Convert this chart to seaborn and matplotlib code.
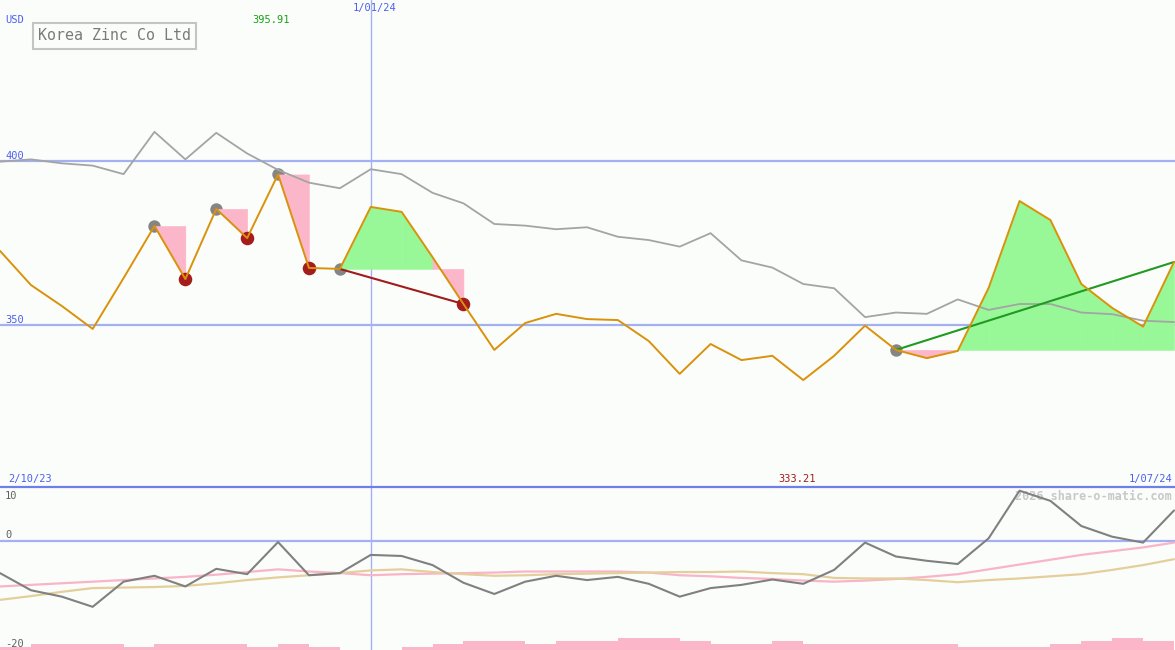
import numpy as np
import pandas as pd
import matplotlib
matplotlib.use("Agg")
import matplotlib.pyplot as plt
import seaborn as sns

# =====================================================
# Data (weekly, 2/10/23 .. 1/07/24)
# =====================================================

price = [372.6, 362.2, 355.8, 348.8, 364.3, 380.2, 364.0, 385.4, 376.5, 395.91,
         367.4, 367.1, 386.0, 384.5, 370.7, 356.4, 342.4, 350.6, 353.4, 351.8,
         351.5, 345.1, 335.1, 344.2, 339.3, 340.6, 333.21, 340.6, 349.8, 342.4,
         339.9, 342.1, 361.3, 387.8, 382.0, 362.5, 355.2, 349.5, 369.2]

avg_line = [399.8, 400.5, 399.3, 398.6, 396.0, 408.9, 400.5, 408.6, 402.3, 397.3,
            393.4, 391.7, 397.5, 396.0, 390.3, 387.1, 380.8, 380.3, 379.2, 379.8,
            376.9, 375.9, 373.9, 378.0, 369.7, 367.5, 362.5, 361.2, 352.4, 353.8,
            353.4, 357.8, 354.6, 356.4, 356.4, 353.8, 353.3, 351.3, 350.9]

momentum = [-6.0, -9.2, -10.4, -12.3, -7.6, -6.5, -8.5, -5.2, -6.2, -0.2,
            -6.4, -6.0, -2.6, -2.8, -4.5, -7.8, -9.9, -7.6, -6.5, -7.3,
            -6.7, -8.0, -10.4, -8.8, -8.2, -7.2, -8.0, -5.4, -0.3, -2.9,
            -3.7, -4.3, 0.5, 9.4, 7.5, 2.8, 0.8, -0.3, 5.7]

mom_fast = [-8.5, -8.2, -7.9, -7.6, -7.3, -7.0, -6.7, -6.3, -5.8, -5.3,
            -5.7, -6.0, -6.4, -6.2, -6.1, -6.0, -5.9, -5.7, -5.7, -5.7,
            -5.7, -5.9, -6.4, -6.6, -6.9, -7.1, -7.4, -7.6, -7.4, -7.1,
            -6.7, -6.2, -5.3, -4.4, -3.5, -2.6, -1.9, -1.2, -0.3]

mom_slow = [-11.0, -10.3, -9.5, -8.8, -8.7, -8.6, -8.4, -7.9, -7.3, -6.8,
            -6.4, -6.0, -5.5, -5.3, -5.8, -6.2, -6.5, -6.4, -6.2, -6.1,
            -6.0, -5.9, -5.8, -5.8, -5.7, -6.0, -6.2, -6.9, -7.0, -7.0,
            -7.3, -7.7, -7.3, -7.0, -6.6, -6.2, -5.4, -4.5, -3.4]

# volume level for each week-to-week interval
volume = [1, 2, 2, 2, 1, 2, 2, 2, 1, 2, 1, 0, 0, 1, 2, 3, 3, 2, 3,
          3, 4, 4, 3, 2, 2, 3, 2, 2, 2, 2, 2, 1, 1, 1, 2, 3, 4, 3]

buy_idx = [5, 7, 9, 11, 29]
sell_idx = [6, 8, 10, 15]

# signal ranges: (start, end) -> fill vs start level
signals = [(5, 6), (7, 8), (9, 10), (11, 15), (29, 38)]
trend_lines = [(11, 15, "#a01c1c"), (29, 38, "#229922")]

date_labels = ["2/10/23", "1/01/24", "1/07/24"]
date_idx = [0, 12, 38]

price_levels = [400, 350]

# =====================================================
# Styles
# =====================================================

BG = "#fbfdfb"
GRID_BLUE = "#a3b1f2"
TEXT_BLUE = "#4d5ff0"
PINK = "#fbb6ca"
GREEN = "#98f898"
MONO = ["DejaVu Sans Mono"]

sns.set_style("white")
plt.rcParams["font.family"] = MONO

weeks = np.arange(len(price))
df = pd.DataFrame({
    "week": weeks,
    "price": price,
    "avg": avg_line,
    "mom": momentum,
    "fast": mom_fast,
    "slow": mom_slow,
})

fig = plt.figure(figsize=(11.75, 6.5), dpi=100, facecolor=BG)

split = 163 / 650
ax = fig.add_axes([0, split, 1, 1 - split])
ax_low = fig.add_axes([0, 0, 1, split])

xmax = (len(price) - 1) * 1175 / 1174

for a in (ax, ax_low):
    a.set_facecolor(BG)
    a.set_xlim(0, xmax)
    a.set_xticks([])
    a.set_yticks([])
    for s in a.spines.values():
        s.set_visible(False)

ax.set_ylim(300.6, 449.1)
ax_low.set_ylim(-20.37, 10.09)

# =====================================================
# Main panel
# =====================================================

for lvl in price_levels:
    ax.axhline(lvl, color=GRID_BLUE, lw=1.6, zorder=1)
    ax.annotate(str(lvl), xy=(0, lvl), xycoords=("axes fraction", "data"),
                xytext=(5, 0), textcoords="offset pixels",
                va="bottom", ha="left", fontsize=7.5, color=TEXT_BLUE)

ax.axvline(date_idx[1], color=GRID_BLUE, lw=1.0, zorder=1)
ax_low.axvline(date_idx[1], color=GRID_BLUE, lw=1.0, zorder=1)

sns.scatterplot(x=weeks[buy_idx], y=np.array(price)[buy_idx], ax=ax,
                color="#858585", s=80, linewidth=0, zorder=1.5)

# fills relative to the signal start level
for start, end in signals:
    level = price[start]
    for j in range(start, end):
        col = GREEN if price[j + 1] > level else PINK
        ax.fill_between(weeks[j:j + 2], price[j:j + 2], level,
                        facecolor=col, edgecolor=col, lw=0.4, zorder=2)

sns.lineplot(data=df, x="week", y="avg", ax=ax, color="#a4a4a4",
             lw=1.3, estimator=None, zorder=3)

sns.scatterplot(x=weeks[sell_idx], y=np.array(price)[sell_idx], ax=ax,
                color="#a51c1c", s=95, linewidth=0, zorder=4)

for start, end, col in trend_lines:
    sns.lineplot(x=[weeks[start], weeks[end]], y=[price[start], price[end]],
                 ax=ax, color=col, lw=1.5, zorder=4)

sns.lineplot(data=df, x="week", y="price", ax=ax, color="#d9920a",
             lw=1.4, estimator=None, zorder=5)

ax.set_xlabel("")
ax.set_ylabel("")

# high / low labels
hi_i = int(np.argmax(price))
lo_i = int(np.argmin(price))
ax.annotate(f"{price[hi_i]:.2f}", xy=(weeks[hi_i], 1),
            xycoords=("data", "axes fraction"), xytext=(-7, -20),
            textcoords="offset pixels", ha="center", va="center",
            fontsize=7.5, color="#16a016")
ax.annotate(f"{price[lo_i]:.2f}", xy=(weeks[lo_i], 0),
            xycoords=("data", "axes fraction"), xytext=(-6, 8),
            textcoords="offset pixels", ha="center", va="center",
            fontsize=7.5, color="#a01c1c")

# date labels
ax.annotate(date_labels[0], xy=(weeks[date_idx[0]], 0),
            xycoords=("data", "axes fraction"), xytext=(8, 8),
            textcoords="offset pixels", ha="left", va="center",
            fontsize=7.5, color=TEXT_BLUE)
ax.annotate(date_labels[1], xy=(weeks[date_idx[1]], 1),
            xycoords=("data", "axes fraction"), xytext=(4, -8),
            textcoords="offset pixels", ha="center", va="center",
            fontsize=7.5, color=TEXT_BLUE)
ax.annotate(date_labels[2], xy=(1, 0), xycoords="axes fraction",
            xytext=(-3, 8), textcoords="offset pixels", ha="right",
            va="center", fontsize=7.5, color=TEXT_BLUE)

ax.text(5 / 1175, 1 - 20 / 487, "USD", transform=ax.transAxes,
        ha="left", va="center", fontsize=7.5, color=TEXT_BLUE)

ax.text(38 / 1175, 1 - 36 / 487, "Korea Zinc Co Ltd", transform=ax.transAxes,
        ha="left", va="center", fontsize=10.8, color="#7a7a7a",
        bbox=dict(boxstyle="square,pad=0.35", fc=BG, ec="#c4c4c4", lw=1.5))

# =====================================================
# Lower panel
# =====================================================

ax_vol = ax_low.twinx()
ax_vol.set_ylim(0, 163 / 3)
ax_vol.bar(weeks[:-1] + 0.5, volume, width=1.0, color=PINK, lw=0)
ax_vol.set_yticks([])
for s in ax_vol.spines.values():
    s.set_visible(False)
ax_low.set_zorder(ax_vol.get_zorder() + 1)
ax_low.patch.set_visible(False)
ax_vol.set_facecolor(BG)
ax_vol.patch.set_visible(True)

ax_low.axhline(0, color=GRID_BLUE, lw=1.6, zorder=1)

sns.lineplot(data=df, x="week", y="fast", ax=ax_low, color="#f9b4c8",
             lw=1.6, estimator=None, zorder=2)
sns.lineplot(data=df, x="week", y="slow", ax=ax_low, color="#e4cf9c",
             lw=1.6, estimator=None, zorder=2)
sns.lineplot(data=df, x="week", y="mom", ax=ax_low, color="#808080",
             lw=1.5, estimator=None, zorder=3)
ax_low.set_xlabel("")
ax_low.set_ylabel("")

for lbl, yv, off in [("10", 10.09, -9), ("0", 0, 6), ("-20", -20.37, 6)]:
    ax_low.annotate(lbl, xy=(0, yv), xycoords=("axes fraction", "data"),
                    xytext=(5, off), textcoords="offset pixels",
                    ha="left", va="center", fontsize=7.5, color="#606060")

ax_low.text(1 - 3 / 1175, 1 - 10 / 163, "2026 share-o-matic.com",
            transform=ax_low.transAxes, ha="right", va="center",
            fontsize=8.5, color="#c8c8c8", fontweight="bold", zorder=1)

# separator between panels
fig.add_artist(plt.Line2D([0, 1], [split, split], color="#6f7fe9", lw=1.6))

fig.savefig("out.png", dpi=100, facecolor=BG)
